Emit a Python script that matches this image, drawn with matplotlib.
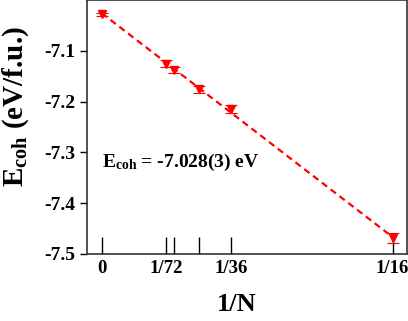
import numpy as np
import matplotlib
matplotlib.use('Agg')
import matplotlib.pyplot as plt

# data: 1/N vs cohesive energy
n_values = [0, 72, 64, 48, 36, 16]          # 0 -> extrapolated limit
energy = [-7.028, -7.125, -7.137, -7.176, -7.215, -7.468]
energy_err = [0.003, 0.006, 0.006, 0.007, 0.008, 0.010]

tick_n = [0, 72, 64, 48, 36, 16]
tick_labels = ['0', '1/72', '', '', '1/36', '1/16']
y_ticks = [-7.5, -7.4, -7.3, -7.2, -7.1]

x = np.array([0.0 if n == 0 else 1.0 / n for n in n_values])
y = np.array(energy)

plt.rcParams['font.family'] = 'Liberation Serif'
plt.rcParams['font.weight'] = 'bold'
plt.rcParams['mathtext.fontset'] = 'custom'
plt.rcParams['mathtext.rm'] = 'Liberation Serif:bold'
plt.rcParams['mathtext.it'] = 'Liberation Serif:bold'
plt.rcParams['mathtext.bf'] = 'Liberation Serif:bold'

fig = plt.figure(figsize=(4.08, 3.21), dpi=100)
ax = fig.add_axes([87 / 408, 67 / 321, 320 / 408, 254 / 321])

# linear fit through the finite-size points
coef = np.polyfit(x[1:], y[1:], 1)
xf = np.array([0.0, x.max()])
ax.plot(xf, np.polyval(coef, xf), color='red', ls=(0, (3, 2)), lw=1.6, zorder=2)

ax.errorbar(x, y, yerr=energy_err, fmt='v', color='red', ms=6,
            elinewidth=0.8, capsize=4, capthick=0.8, zorder=3)

tx = [0.0 if n == 0 else 1.0 / n for n in tick_n]
ax.set_xticks(tx)
ax.set_xticklabels(tick_labels)
ax.set_yticks(y_ticks)
ax.set_yticklabels(['%.1f' % v for v in y_ticks])
ax.set_xlim(-0.00316, 0.0656)
ax.set_ylim(-7.5, -7.0)

ax.tick_params(axis='x', direction='in', length=12, width=1, labelsize=13.5, pad=4)
ax.tick_params(axis='y', direction='out', length=5, width=1, labelsize=14)
for s in ax.spines.values():
    s.set_color('#333333')
    s.set_linewidth(1.2)

ax.set_xlabel('1/N', fontsize=19, fontweight='bold')
ax.xaxis.set_label_coords(150 / 320, -0.155)
ax.set_ylabel(r'E$_{\rm coh}$ (eV/f.u.)', fontsize=21, fontweight='bold')
ax.yaxis.set_label_coords(-0.175, 0.58)

ax.text(0.0001, -7.32, r'E$_{\rm coh}$ = -7.028(3) eV', fontsize=14,
        fontweight='bold', va='center', ha='left')

plt.savefig('out.png', dpi=100)
